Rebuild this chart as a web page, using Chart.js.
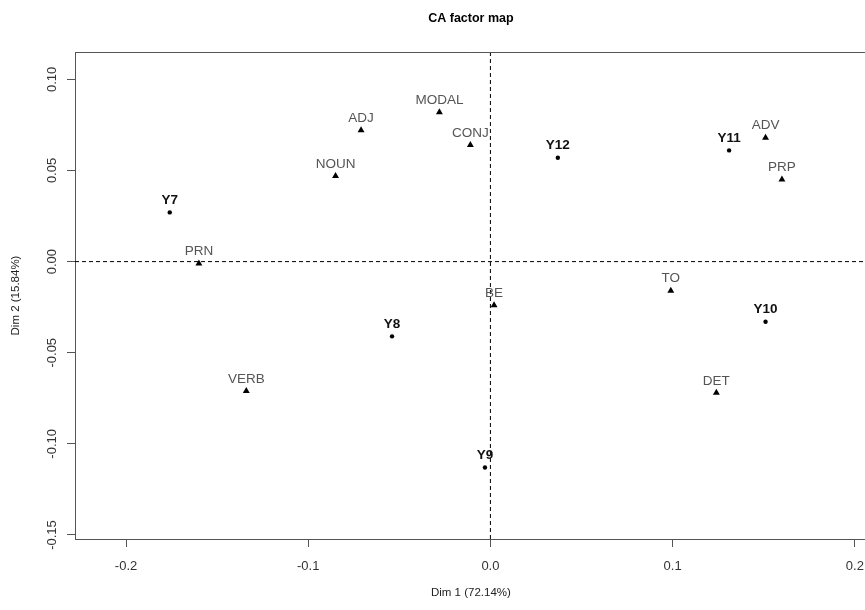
<!DOCTYPE html>
<html>
<head>
<meta charset="utf-8">
<title>CA factor map</title>
<script src="https://cdn.jsdelivr.net/npm/chart.js@4.4.1/dist/chart.umd.min.js"></script>
<style>
  html, body { margin: 0; padding: 0; background: #fff; overflow: hidden; width: 865px; height: 610px; }
</style>
</head>
<body>
<canvas id="caMap" width="876" height="610"></canvas>
<script>
/* ---------- Data ---------- */

// columns (years) - dots, bold labels
const colNames = ["Y7", "Y8", "Y9", "Y10", "Y11", "Y12"];
const colDim1 = [-0.176, -0.054, -0.003, 0.151, 0.131, 0.037];
const colDim2 = [0.027, -0.041, -0.113, -0.033, 0.061, 0.057];

// rows (word classes) - triangles, grey labels
const rowNames = ["PRN", "NOUN", "ADJ", "MODAL", "CONJ", "ADV", "PRP", "TO", "DET", "BE", "VERB"];
const rowDim1 = [-0.160, -0.085, -0.071, -0.028, -0.011, 0.151, 0.160, 0.099, 0.124, 0.002, -0.134];
const rowDim2 = [-0.001, 0.047, 0.072, 0.082, 0.064, 0.068, 0.045, -0.016, -0.072, -0.024, -0.071];

const xTicks = [-0.2, -0.1, 0.0, 0.1, 0.2];
const yTicks = [-0.15, -0.10, -0.05, 0.00, 0.05, 0.10];
const xRange = [-0.228, 0.2066];
const yRange = [-0.1522, 0.115];

const axisColor = "#555";
const textFont = "'Liberation Sans', Arial, sans-serif";

/* ---------- Helpers ---------- */

function toPoints(xs, ys) {
  return xs.map((x, i) => ({ x, y: ys[i] }));
}

/* ---------- Plugins ---------- */

// point names written above each marker
const pointNames = {
  id: "pointNames",
  afterDatasetsDraw(chart) {
    const ctx = chart.ctx;
    chart.data.datasets.forEach((ds, i) => {
      if (!ds.names) return;
      const meta = chart.getDatasetMeta(i);
      ctx.save();
      ctx.font = ds.nameFont;
      ctx.fillStyle = ds.nameColor;
      ctx.textAlign = "center";
      ctx.textBaseline = "middle";
      meta.data.forEach((el, j) => {
        ctx.fillText(ds.names[j], el.x, el.y - 12);
      });
      ctx.restore();
    });
  }
};

// top frame line + vertical y tick labels (R style)
const frame = {
  id: "frame",
  afterDraw(chart) {
    const ctx = chart.ctx;
    const area = chart.chartArea;
    const yScale = chart.scales.y;

    ctx.save();
    ctx.strokeStyle = axisColor;
    ctx.lineWidth = 1;
    const top = Math.round(area.top) + 0.5;
    ctx.beginPath();
    ctx.moveTo(area.left, top);
    ctx.lineTo(area.right, top);
    ctx.stroke();

    ctx.fillStyle = "#333";
    ctx.font = "13px " + textFont;
    ctx.textAlign = "center";
    ctx.textBaseline = "middle";
    yTicks.forEach(v => {
      ctx.save();
      ctx.translate(52, yScale.getPixelForValue(v));
      ctx.rotate(-Math.PI / 2);
      ctx.fillText(v.toFixed(2), 0, 0);
      ctx.restore();
    });
    ctx.restore();
  }
};

/* ---------- Chart ---------- */

new Chart(document.getElementById("caMap"), {
  type: "scatter",
  data: {
    datasets: [
      {
        label: "columns",
        data: toPoints(colDim1, colDim2),
        names: colNames,
        nameFont: "bold 13.5px " + textFont,
        nameColor: "#111",
        pointStyle: "circle",
        pointRadius: 2.2,
        backgroundColor: "#000",
        borderColor: "#000",
        borderWidth: 0,
        order: 1
      },
      {
        label: "rows",
        data: toPoints(rowDim1, rowDim2),
        names: rowNames,
        nameFont: "13.5px " + textFont,
        nameColor: "#555",
        pointStyle: "triangle",
        pointRadius: 4,
        backgroundColor: "#000",
        borderColor: "#000",
        borderWidth: 0,
        order: 1
      },
      {
        label: "h0",
        data: [{ x: xRange[0], y: 0 }, { x: xRange[1], y: 0 }],
        showLine: true,
        pointRadius: 0,
        borderColor: "#000",
        borderWidth: 1,
        borderDash: [4, 3],
        order: 2
      },
      {
        label: "v0",
        data: [{ x: 0, y: yRange[0] }, { x: 0, y: yRange[1] }],
        showLine: true,
        pointRadius: 0,
        borderColor: "#000",
        borderWidth: 1,
        borderDash: [4, 3],
        order: 2
      }
    ]
  },
  options: {
    responsive: false,
    animation: false,
    devicePixelRatio: 1,
    layout: { padding: 0 },
    plugins: {
      legend: { display: false },
      tooltip: { enabled: false },
      title: {
        display: true,
        text: "CA factor map",
        fullSize: false,
        color: "#000",
        font: { family: textFont, size: 12.5, weight: "bold" },
        padding: { top: 11, bottom: 26 }
      }
    },
    scales: {
      x: {
        type: "linear",
        min: xRange[0],
        max: xRange[1],
        afterBuildTicks: s => { s.ticks = xTicks.map(v => ({ value: v })); },
        afterFit: s => { s.height = 71; },
        ticks: {
          color: "#333",
          font: { family: textFont, size: 13 },
          padding: 12,
          maxRotation: 0,
          autoSkip: false,
          callback: v => Number(v).toFixed(1)
        },
        grid: { drawOnChartArea: false, drawTicks: true, tickLength: 8, color: axisColor },
        border: { display: true, color: axisColor },
        title: {
          display: true,
          text: "Dim 1 (72.14%)",
          color: "#222",
          font: { family: textFont, size: 11.5 },
          padding: { top: 0, bottom: 10 }
        }
      },
      y: {
        type: "linear",
        min: yRange[0],
        max: yRange[1],
        afterBuildTicks: s => { s.ticks = yTicks.map(v => ({ value: v })); },
        afterFit: s => { s.width = 75; },
        ticks: {
          color: "rgba(0,0,0,0)",
          font: { family: textFont, size: 13 },
          padding: 4,
          autoSkip: false,
          callback: v => Number(v).toFixed(2)
        },
        grid: { drawOnChartArea: false, drawTicks: true, tickLength: 8, color: axisColor },
        border: { display: true, color: axisColor },
        title: {
          display: true,
          text: "Dim 2 (15.84%)",
          color: "#222",
          font: { family: textFont, size: 11.5 },
          padding: { top: 9, bottom: 0 }
        }
      }
    }
  },
  plugins: [pointNames, frame]
});
</script>
</body>
</html>
